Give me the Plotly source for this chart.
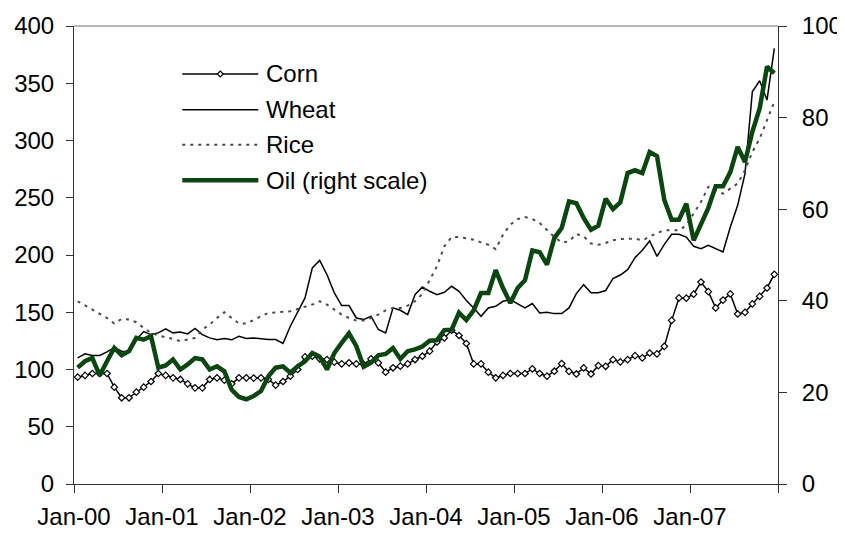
import numpy as np
import plotly.graph_objects as go

# Monthly data, Jan-2000 .. Dec-2007 (96 months)
corn = [93.3, 94.8, 96.5, 96.5, 96.5, 84.6, 75.3, 75.3, 80.2, 84.6, 89.5, 96.5,
        94.8, 92.7, 91.3, 87.5, 84.0, 84.0, 91.3, 92.7, 90.7, 87.5, 92.7, 92.7,
        92.5, 92.7, 91.3, 86.3, 89.5, 94.2, 100.0, 111.0, 111.6, 109.3, 108.7, 106.4,
        104.9, 105.8, 104.9, 104.4, 109.3, 105.8, 97.7, 101.5, 102.9, 104.9, 108.7, 111.6,
        116.0, 124.0, 127.6, 134.3, 129.7, 122.7, 104.9, 104.9, 97.7, 92.7, 94.8, 96.5,
        96.5, 96.5, 100.6, 96.5, 94.2, 98.5, 105.2, 98.4, 96.1, 101.4, 96.1, 103.4,
        102.8, 108.6, 106.6, 108.6, 112.1, 110.1, 114.4, 113.6, 120.2, 142.9, 162.5, 162.3,
        165.8, 176.4, 168.0, 153.8, 160.6, 166.0, 148.5, 149.9, 157.3, 163.8, 171.2, 183.1]

wheat = [110.2, 113.7, 112.2, 112.2, 115.4, 119.2, 116.0, 115.4, 126.2, 133.1, 130.5, 132.0,
         135.5, 132.0, 132.8, 131.1, 135.8, 130.5, 127.6, 125.9, 127.0, 125.9, 129.0, 127.0,
         127.6, 126.7, 126.2, 126.2, 122.7, 137.8, 150.9, 162.5, 188.7, 195.3, 182.8, 166.9,
         155.8, 155.8, 145.0, 143.6, 146.5, 134.9, 132.0, 153.8, 151.7, 148.0, 165.4, 172.0,
         168.3, 165.4, 167.4, 172.7, 168.3, 160.2, 153.8, 146.5, 153.8, 155.2, 159.6, 161.0,
         157.3, 153.8, 157.6, 149.4, 150.0, 148.8, 148.8, 153.8, 166.3, 174.1, 167.0, 167.0,
         169.0, 179.5, 182.5, 187.2, 197.7, 204.1, 212.2, 198.8, 209.3, 218.1, 218.1, 215.7,
         207.6, 205.5, 208.5, 205.5, 202.6, 224.5, 243.4, 271.1, 342.6, 352.2, 335.3, 380.5]

rice = [159.6, 155.8, 152.3, 148.8, 145.0, 140.1, 144.2, 143.6, 141.3, 136.3, 132.0, 129.7,
        128.5, 126.7, 124.7, 126.2, 127.6, 134.9, 139.2, 145.0, 150.0, 145.0, 140.1, 140.1,
        143.6, 146.5, 149.4, 150.0, 150.0, 150.9, 152.9, 154.7, 156.7, 159.6, 156.7, 152.3,
        148.0, 145.0, 142.7, 142.7, 145.0, 148.0, 151.7, 153.8, 153.8, 155.8, 159.6, 166.0,
        178.5, 190.1, 207.6, 215.7, 215.7, 214.8, 213.4, 211.0, 209.0, 205.2, 217.7, 226.5,
        231.4, 233.1, 231.4, 227.9, 222.1, 215.7, 211.0, 211.9, 218.3, 216.3, 210.0, 209.0,
        210.5, 212.8, 214.0, 214.3, 214.3, 212.8, 216.3, 219.2, 221.6, 221.6, 221.6, 226.0,
        236.2, 246.4, 259.5, 256.6, 253.6, 258.0, 262.4, 274.0, 290.0, 301.7, 317.8, 333.8]

oil = [25.4, 26.8, 27.5, 23.7, 26.8, 29.7, 28.1, 29.0, 31.9, 31.5, 32.3, 25.4,
       25.9, 27.2, 25.0, 26.1, 27.5, 27.2, 25.0, 25.7, 24.6, 20.6, 19.0, 18.5,
       19.2, 20.3, 23.5, 25.4, 25.7, 24.3, 25.7, 26.8, 28.6, 27.8, 25.0, 28.6,
       30.8, 32.9, 30.1, 25.6, 26.5, 28.1, 28.4, 29.7, 27.3, 29.0, 29.4, 30.0,
       31.3, 31.4, 33.6, 33.7, 37.4, 35.8, 37.9, 41.7, 41.7, 46.7, 42.8, 39.5,
       42.8, 44.5, 51.0, 50.6, 47.9, 53.7, 55.9, 61.7, 61.3, 58.1, 55.5, 56.4,
       62.3, 60.0, 61.5, 67.9, 68.5, 67.9, 72.5, 71.6, 62.0, 57.7, 57.7, 61.2,
       53.2, 56.7, 60.3, 65.0, 65.0, 68.1, 73.6, 70.3, 76.9, 82.0, 91.1, 89.7]

tick_labels = ["Jan-00", "Jan-01", "Jan-02", "Jan-03", "Jan-04", "Jan-05", "Jan-06", "Jan-07"]
series_names = ["Corn", "Wheat", "Rice", "Oil (right scale)"]

# each monthly value sits in the middle of its month slot
x = np.arange(len(corn)) + 0.5
n_months = len(corn)

FONT = "Liberation Sans, Arial, sans-serif"
FS = 24
OIL_COLOR = "#0b4510"
RICE_COLOR = "#4a4a4a"

fig = go.Figure()
fig.add_trace(go.Scatter(x=x, y=corn, mode="lines+markers", name=series_names[0],
                         line=dict(color="black", width=1.5),
                         marker=dict(symbol="diamond", size=5, color="white",
                                     line=dict(color="black", width=1.2))))
fig.add_trace(go.Scatter(x=x, y=wheat, mode="lines", name=series_names[1],
                         line=dict(color="black", width=1.5)))
fig.add_trace(go.Scatter(x=x, y=rice, mode="lines", name=series_names[2],
                         line=dict(color=RICE_COLOR, width=2, dash="3px,5px")))
fig.add_trace(go.Scatter(x=x, y=oil, mode="lines", name=series_names[3], yaxis="y2",
                         line=dict(color=OIL_COLOR, width=4.5)))

axis_common = dict(showgrid=False, zeroline=False, showline=True, linecolor="#333333",
                   linewidth=1, ticks="outside", tickcolor="#333333", tickwidth=1,
                   automargin=False,
                   tickfont=dict(family=FONT, size=FS, color="black"))

# the page body adds an 8px offset, so the figure is 8px smaller than the window
fig.update_layout(
    width=837, height=528,
    margin=dict(l=66, r=67, t=18, b=52),
    paper_bgcolor="white", plot_bgcolor="white",
    showlegend=False,
    font=dict(family=FONT, size=FS, color="black"),
    xaxis=dict(range=[0, n_months], tickmode="array",
               tickvals=list(range(0, n_months + 1, 12)),
               ticktext=tick_labels + [""], ticklen=8, ticklabelstandoff=3,
               **axis_common),
    yaxis=dict(range=[0, 400], tickmode="linear", tick0=0, dtick=50, ticklen=7,
               ticklabelstandoff=7, **axis_common),
    yaxis2=dict(range=[0, 100], tickmode="linear", tick0=0, dtick=20, ticklen=8,
                ticklabelstandoff=10, overlaying="y", side="right", **axis_common),
)

# light grey top border of the plot area
fig.add_shape(type="line", xref="paper", yref="paper", x0=0, x1=1, y0=1, y1=1,
              line=dict(color="#a0a0a0", width=1.5))

# manual legend (long sample lines as in the original)
leg_x0, leg_x1, leg_tx = 0.1538, 0.2618, 0.2703
leg_y = [0.8952, 0.8173, 0.7409, 0.663]
leg_styles = [dict(color="black", width=1.5),
              dict(color="black", width=1.5),
              dict(color=RICE_COLOR, width=2, dash="3px,5px"),
              dict(color=OIL_COLOR, width=4.5)]
for name, yy, st in zip(series_names, leg_y, leg_styles):
    fig.add_shape(type="line", xref="paper", yref="paper", x0=leg_x0, x1=leg_x1,
                  y0=yy, y1=yy, line=st)
    fig.add_annotation(xref="paper", yref="paper", x=leg_tx, y=yy, text=name,
                       showarrow=False, xanchor="left", yanchor="middle",
                       font=dict(family=FONT, size=FS, color="black"))
# diamond marker in the Corn legend sample
fig.add_shape(type="path", xref="paper", yref="paper", xsizemode="pixel", ysizemode="pixel",
              xanchor=(leg_x0 + leg_x1) / 2, yanchor=leg_y[0],
              path="M-3,0 L0,3 L3,0 L0,-3 Z", fillcolor="white",
              line=dict(color="black", width=1.2))

fig.write_html("out.html")
